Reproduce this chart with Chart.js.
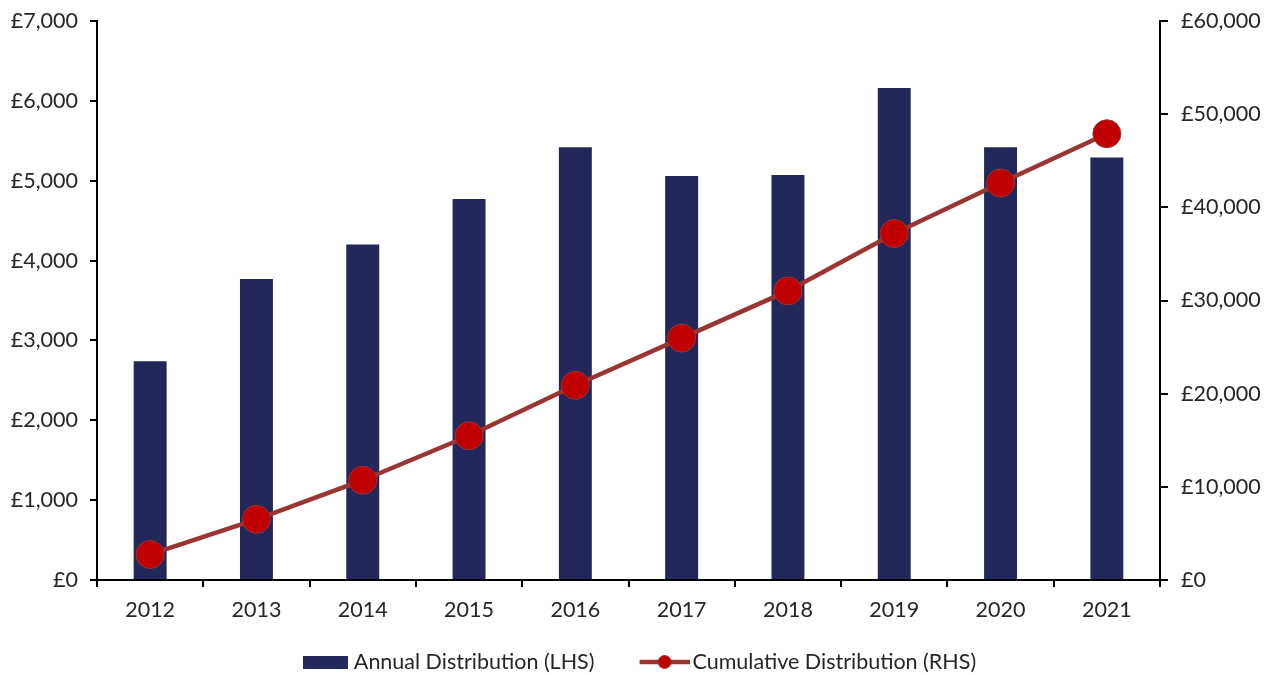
<!DOCTYPE html>
<html>
<head>
<meta charset="utf-8">
<script src="https://cdn.jsdelivr.net/npm/chart.js@4.4.0/dist/chart.umd.min.js"></script>
<style>
html,body{margin:0;padding:0;background:#fff;}
#wrap{width:1276px;height:675px;}
</style>
</head>
<body>
<div id="wrap"><canvas id="c" width="1276" height="675"></canvas></div>
<script>
const categories = ['2012','2013','2014','2015','2016','2017','2018','2019','2020','2021'];
const annualDistribution = [2740, 3770, 4200, 4770, 5420, 5060, 5070, 6160, 5420, 5290];
const cumulativeDistribution = [2740, 6510, 10710, 15480, 20900, 25960, 31030, 37190, 42610, 47900];
const leftTicksMax = 7000;
const rightTicksMax = 60000;

const NAVY = '#22285a';
const LINE = '#9b3533';
const DOT = '#c00000';
const FS = 21.5;

function fmt(v){ return '£' + Number(v).toLocaleString('en-GB'); }

// legend symbols
const barSym = document.createElement('canvas');
barSym.width = 72; barSym.height = 13;
(function(){ const g = barSym.getContext('2d'); g.fillStyle = NAVY; g.fillRect(24,0,45,13); })();
const lineSym = document.createElement('canvas');
lineSym.width = 72; lineSym.height = 16;
(function(){ const g = lineSym.getContext('2d');
  g.strokeStyle = LINE; g.lineWidth = 4.5; g.beginPath(); g.moveTo(22,8); g.lineTo(72,8); g.stroke();
  g.fillStyle = DOT; g.strokeStyle = LINE; g.lineWidth = 1; g.beginPath(); g.arc(47,8,6.5,0,Math.PI*2); g.fill(); g.stroke();
})();

Chart.defaults.font.family = 'Lato';
Chart.defaults.color = '#000';

function noPadY(s){ s.paddingTop = 0; s.paddingBottom = 0; }

new Chart(document.getElementById('c'), {
  type: 'bar',
  data: {
    labels: categories,
    datasets: [
      {
        type: 'bar',
        label: 'Annual Distribution (LHS)',
        data: annualDistribution,
        backgroundColor: NAVY,
        yAxisID: 'yL',
        barPercentage: 0.31,
        categoryPercentage: 1.0,
        order: 1
      },
      {
        type: 'line',
        label: 'Cumulative Distribution (RHS)',
        data: cumulativeDistribution,
        borderColor: LINE,
        borderWidth: 4.5,
        backgroundColor: DOT,
        pointBackgroundColor: DOT,
        pointBorderColor: LINE,
        pointBorderWidth: 1,
        pointRadius: 14,
        pointHoverRadius: 14,
        tension: 0,
        yAxisID: 'yR',
        order: 0,
        clip: false
      }
    ]
  },
  options: {
    responsive: false,
    animation: false,
    layout: { padding: { top: 21, left: 0, right: 13, bottom: -7.75 } },
    plugins: {
      tooltip: { enabled: false },
      legend: {
        position: 'bottom',
        labels: {
          usePointStyle: true,
          pointStyleWidth: 56.25,
          boxHeight: 13,
          padding: 31,
          font: { size: FS },
          color: '#262626',
          sort: (a, b) => a.datasetIndex - b.datasetIndex,
          generateLabels: function(chart){
            const items = Chart.defaults.plugins.legend.labels.generateLabels(chart);
            items.forEach(it => { it.pointStyle = it.datasetIndex === 0 ? barSym : lineSym; });
            return items;
          }
        }
      }
    },
    scales: {
      x: {
        offset: true,
        grid: { offset: true, drawOnChartArea: false, drawTicks: true, tickLength: 7, tickColor: '#000', lineWidth: 2 },
        border: { display: true, color: '#000', width: 2 },
        ticks: { font: { size: FS }, color: '#262626', padding: 10 },
        afterFit: s => { s.height = 40.25; s.paddingLeft = 0; s.paddingRight = 0; }
      },
      yL: {
        position: 'left',
        min: 0, max: leftTicksMax,
        ticks: { stepSize: 1000, callback: fmt, font: { size: FS }, color: '#262626', padding: 12 },
        grid: { drawOnChartArea: false, drawTicks: true, tickLength: 7, tickColor: '#000', lineWidth: 2 },
        border: { display: true, color: '#000', width: 2 },
        afterFit: s => { s.width = 97; noPadY(s); }
      },
      yR: {
        position: 'right',
        min: 0, max: rightTicksMax,
        ticks: { stepSize: 10000, callback: fmt, font: { size: FS }, color: '#262626', padding: 13 },
        grid: { drawOnChartArea: false, drawTicks: true, tickLength: 8, tickColor: '#000', lineWidth: 2 },
        border: { display: true, color: '#000', width: 2 },
        afterFit: s => { s.width = 103; noPadY(s); }
      }
    }
  }
});
</script>
</body>
</html>
